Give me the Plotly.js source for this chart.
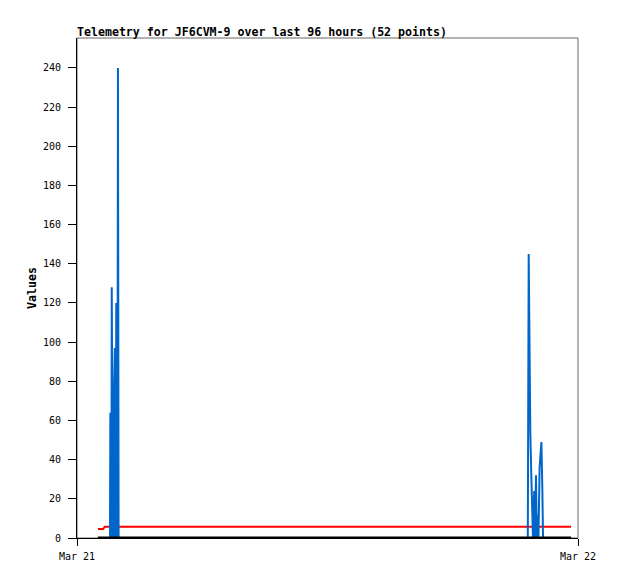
<!DOCTYPE html>
<html>
<head>
<meta charset="utf-8">
<script src="https://cdn.plot.ly/plotly-3.0.1.min.js"></script>
<style>html,body{margin:0;padding:0;background:#fff;}#chart{width:618px;height:579px;}</style>
</head>
<body>
<div id="chart"></div>
<script>
// ---- data ----
const blueTimes = [
  "2024-03-21 01:00:00",
  "2024-03-21 01:34:51","2024-03-21 01:35:51","2024-03-21 01:36:52","2024-03-21 01:37:52",
  "2024-03-21 01:38:52","2024-03-21 01:39:53","2024-03-21 01:40:53","2024-03-21 01:41:53",
  "2024-03-21 01:42:54","2024-03-21 01:43:54","2024-03-21 01:44:54","2024-03-21 01:45:55",
  "2024-03-21 01:46:55","2024-03-21 01:47:47","2024-03-21 01:48:48","2024-03-21 01:49:48",
  "2024-03-21 01:50:48","2024-03-21 01:51:49","2024-03-21 01:52:49","2024-03-21 01:53:49",
  "2024-03-21 01:54:50","2024-03-21 01:56:16","2024-03-21 01:57:42","2024-03-21 01:59:34",
  "2024-03-21 21:35:43","2024-03-21 21:38:18","2024-03-21 21:40:36","2024-03-21 21:42:54",
  "2024-03-21 21:45:46","2024-03-21 21:48:39","2024-03-21 21:50:40","2024-03-21 21:54:07",
  "2024-03-21 21:56:25","2024-03-21 21:59:17","2024-03-21 22:01:35","2024-03-21 22:04:00",
  "2024-03-21 22:06:20","2024-03-21 22:09:40","2024-03-21 22:14:50","2024-03-21 22:17:30",
  "2024-03-21 22:19:30",
  "2024-03-21 23:40:00"
];
const blueValues = [
  0,
  0, 64, 0, 64,
  0, 128, 0, 64,
  0, 64, 0, 64,
  80, 0, 97, 0,
  97, 0, 120, 0,
  120, 0, 240, 0,
  0, 145, 64, 54,
  32, 11, 0, 24,
  0, 32, 0, 12,
  0, 36, 49, 25,
  0,
  0
];
const redTimes = ["2024-03-21 01:00:00","2024-03-21 01:15:00","2024-03-21 01:20:00","2024-03-21 23:40:00"];
const redValues = [4.6, 4.6, 5.8, 5.8];
const blackTimes = ["2024-03-21 01:00:00","2024-03-21 23:40:00"];
const blackValues = [0, 0];
const xTickVals = ["2024-03-21 00:00:00","2024-03-22 00:00:00"];
const xTickText = ["Mar 21","Mar 22"];
const yTickVals = [0,20,40,60,80,100,120,140,160,180,200,220,240];

const mono = "DejaVu Sans Mono, Liberation Mono, monospace";

const traces = [
  {x: redTimes, y: redValues, type: "scatter", mode: "lines",
   line: {color: "#ff0000", width: 2}, hoverinfo: "skip"},
  {x: blueTimes, y: blueValues, type: "scatter", mode: "lines",
   line: {color: "#0066cc", width: 2}, hoverinfo: "skip"},
  {x: blackTimes, y: blackValues, type: "scatter", mode: "lines",
   line: {color: "#000000", width: 3}, hoverinfo: "skip"}
];

const layout = {
  width: 618, height: 579,
  margin: {l: 77, r: 40, t: 38, b: 41, pad: 0},
  paper_bgcolor: "#ffffff", plot_bgcolor: "#ffffff",
  showlegend: false,
  font: {family: mono, size: 10, color: "#000"},
  title: {
    text: "Telemetry for JF6CVM-9 over last 96 hours (52 points)",
    font: {family: mono, size: 11.6, color: "#000", weight: "bold"},
    xref: "paper", x: 0, xanchor: "left",
    yref: "container", y: 1 - 31.5/579, yanchor: "middle"
  },
  xaxis: {
    type: "date",
    range: ["2024-03-21 00:00:00", "2024-03-22 00:00:00"],
    tickmode: "array", tickvals: xTickVals, ticktext: xTickText,
    ticks: "outside", ticklen: 7, tickwidth: 1, tickcolor: "#000",
    ticklabelstandoff: 2,
    showline: true, linecolor: "#000", linewidth: 1,
    showgrid: false, zeroline: false,
    tickfont: {family: mono, size: 10, color: "#000"}
  },
  yaxis: {
    range: [0, 255.3],
    tickmode: "array", tickvals: yTickVals,
    ticks: "outside", ticklen: 8, tickwidth: 1, tickcolor: "#000",
    ticklabelstandoff: 5,
    showline: true, linecolor: "#000", linewidth: 1,
    showgrid: false, zeroline: false,
    tickfont: {family: mono, size: 10, color: "#000"},
    title: {text: "Values", font: {family: mono, size: 11.6, color: "#000", weight: "bold"}, standoff: 3}
  },
  shapes: [
    {type: "rect", xref: "paper", yref: "paper", x0: 0, x1: 1, y0: 0, y1: 1,
     line: {color: "#666666", width: 1}, layer: "below"}
  ]
};

Plotly.newPlot("chart", traces, layout, {staticPlot: true, displayModeBar: false});
</script>
</body>
</html>
